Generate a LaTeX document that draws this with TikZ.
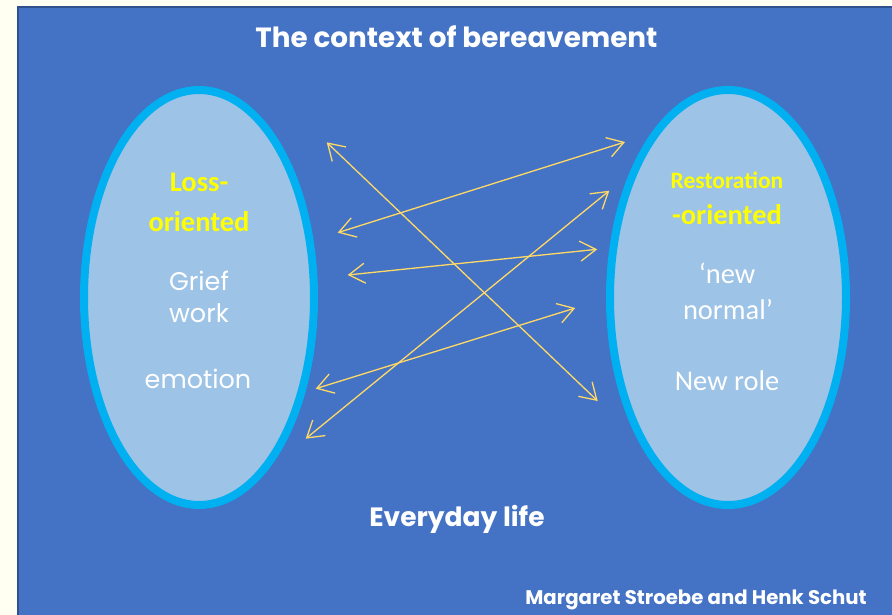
\documentclass[tikz,border=0pt]{standalone}
\usepackage{fontspec}
\setmainfont{Carlito}
\newfontfamily\gothic{Poppins}
\usetikzlibrary{shapes.geometric,arrows.meta}
\definecolor{bgcream}{HTML}{FFFFF2}
\definecolor{slideblue}{HTML}{4472C4}
\definecolor{slideborder}{HTML}{2F528F}
\definecolor{ringblue}{HTML}{00B0F0}
\definecolor{ellfill}{HTML}{9DC3E6}
\definecolor{arrowgold}{HTML}{FFD966}
\definecolor{labelyellow}{HTML}{FFFF00}
\begin{document}
\begin{tikzpicture}[x=1pt,y=-1pt,
  oval/.style={ellipse, draw=ringblue, line width=8pt, fill=ellfill, inner sep=0pt},
  barb/.tip={Straight Barb[length=16pt,width=20pt]},
  link/.style={draw=arrowgold, line width=1.3pt, barb-barb},
  txt/.style={anchor=base, inner sep=0pt, text=white},
  headtxt/.style={txt, text=labelyellow, font=\fontsize{28.5}{30}\selectfont\bfseries},
  gothtxt/.style={txt, font=\gothic\fontsize{25.5}{28}\selectfont},
  caltxt/.style={txt, font=\fontsize{28.5}{30}\selectfont}
]
\useasboundingbox (0,0) rectangle (892,615);
\fill[bgcream] (0,0) rectangle (892,615);
\draw[fill=slideblue, draw=slideborder, line width=2.5pt] (18.2,7) rectangle (905,630);

\node[oval, minimum width=230pt, minimum height=415pt] (loss) at (199,297.5) {};
\node[oval, minimum width=236pt, minimum height=415pt] (rest) at (728,297.5) {};

\node[txt, font=\gothic\fontsize{27.8}{30}\selectfont\bfseries] (title) at (456.5,48) {The context of bereavement};

\node[headtxt] (lossA) at (199,191.5) {Loss-};
\node[headtxt] (lossB) at (199,231) {oriented};
\node[gothtxt] (grief) at (199,290) {Grief};
\node[gothtxt] (work) at (199,322.3) {work};
\node[gothtxt] (emotion) at (198,388) {emotion};

\node[headtxt, font=\fontsize{23.5}{26}\selectfont\bfseries] (restA) at (727,188.3) {Restoration};
\node[headtxt] (restB) at (727,224) {-oriented};
\node[caltxt] (newA) at (727,283.3) {‘new};
\node[caltxt] (newB) at (728,319.3) {normal’};
\node[caltxt] (role) at (727,390.7) {New role};

\node[txt, font=\gothic\fontsize{26.5}{28}\selectfont\bfseries] (everyday) at (457,526.7) {Everyday life};
\node[txt, font=\gothic\fontsize{19.7}{22}\selectfont\bfseries] (authors) at (696,604.3) {Margaret Stroebe and Henk Schut};

\coordinate (a1s) at (326.7,142.3);
\coordinate (a1e) at (597.7,401);
\coordinate (a2s) at (337.7,232.7);
\coordinate (a2e) at (625,142);
\coordinate (a3s) at (347.7,275);
\coordinate (a3e) at (597.3,249.3);
\coordinate (a4s) at (315.7,388.7);
\coordinate (a4e) at (575.3,308);
\coordinate (a5s) at (305.7,438.7);
\coordinate (a5e) at (609.3,190.7);

\draw[link] (a1s) -- (a1e);
\draw[link] (a2s) -- (a2e);
\draw[link] (a3s) -- (a3e);
\draw[link] (a4s) -- (a4e);
\draw[link] (a5s) -- (a5e);
\end{tikzpicture}
\end{document}
